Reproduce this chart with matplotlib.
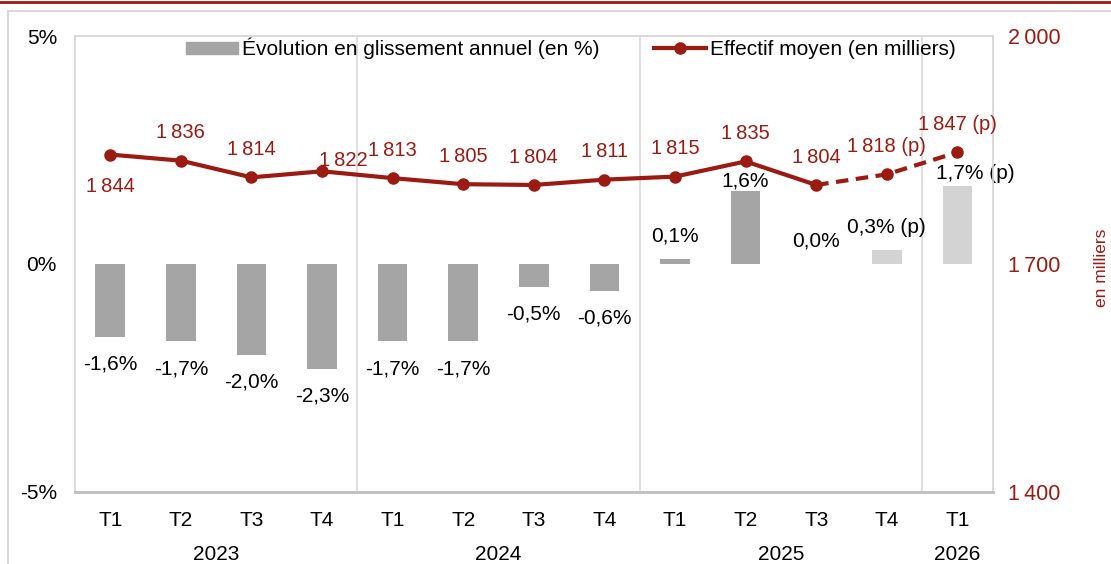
"""
Évolution de l'effectif moyen et glissement annuel
"""

import matplotlib
import matplotlib.pyplot as plt
from matplotlib.lines import Line2D
from matplotlib.patches import Patch, Rectangle

matplotlib.use("Agg")

# données
trimestres = ["T1", "T2", "T3", "T4", "T1", "T2", "T3", "T4", "T1", "T2", "T3", "T4", "T1"]
annees = ["2023", "2024", "2025", "2026"]
glissement = [-1.6, -1.7, -2.0, -2.3, -1.7, -1.7, -0.5, -0.6, 0.1, 1.6, 0.0, 0.3, 1.7]
effectif = [1844, 1836, 1814, 1822, 1813, 1805, 1804, 1811, 1815, 1835, 1804, 1818, 1847]
provisoire = [False] * 11 + [True, True]

ROUGE = "#9B1B12"
GRIS = "#A5A5A5"
GRIS_CLAIR = "#D3D3D3"
TAILLE = 15

plt.rcParams["font.family"] = ["Liberation Sans", "DejaVu Sans"]
plt.rcParams["font.size"] = TAILLE

fig = plt.figure(figsize=(11.11, 5.64), dpi=100)
ax = fig.add_axes([0.0675, 0.128, 0.826, 0.808])
ax2 = ax.twinx()

x = list(range(len(trimestres)))

# barres
couleurs = [GRIS_CLAIR if p else GRIS for p in provisoire]
ax.bar(x, glissement, width=0.42, color=couleurs, zorder=2)
ax.set_ylim(-5, 5)
ax.set_yticks([-5, 0, 5])
ax.set_yticklabels(["-5%", "0%", "5%"])
ax.set_xlim(-0.5, len(x) - 0.5)
ax.set_xticks(x)
ax.set_xticklabels(trimestres)
ax.tick_params(axis="y", length=0, pad=13)
ax.tick_params(axis="x", length=0, pad=14)

# étiquettes des barres (décalages en points)
decalage_barre = {9: (0, 7), 12: (13, 9.5)}
for i, v in enumerate(glissement):
    txt = f"{v:.1f}%".replace(".", ",")
    if provisoire[i]:
        txt += " (p)"
    if v < 0:
        dx, dy = 0, -19.5
    else:
        dx, dy = decalage_barre.get(i, (0, 16.5))
    ax.annotate(txt, (i, v), xytext=(dx, dy), textcoords="offset points",
                ha="center", va="center", color="black")

# courbe
sol = [i for i in x if i <= 10]
ax2.plot(sol, [effectif[i] for i in sol], color=ROUGE, lw=3, marker="o",
         ms=8, solid_capstyle="round", zorder=4)
tir = [i for i in x if i >= 10]
ax2.plot(tir, [effectif[i] for i in tir], color=ROUGE, lw=3, ls=(0, (3, 1.8)),
         marker="o", ms=8, markevery=[1, 2], zorder=4)
ax2.set_ylim(1400, 2000)
ax2.set_yticks([1400, 1700, 2000])
ax2.set_yticklabels(["1\u2009400", "1\u2009700", "2\u2009000"], color=ROUGE,
                    fontsize=15.5)
ax2.tick_params(length=0, pad=11)
fig.text(1101 / 1111, 0.525, "en milliers", rotation=90, color=ROUGE,
         ha="center", va="center", fontsize=12.5)

decalage_ligne = {0: (0, -23), 3: (15, 8)}
for i, v in enumerate(effectif):
    txt = f"{v // 1000}\u2009{v % 1000:03d}"
    if provisoire[i]:
        txt += " (p)"
    dx, dy = decalage_ligne.get(i, (0, 20))
    ax2.annotate(txt, (i, v), xytext=(dx, dy), textcoords="offset points",
                 ha="center", va="center", fontsize=14.5, color=ROUGE)

# séparateurs d'années
for s in [3.5, 7.5, 11.5]:
    ax.axvline(s, color="#D9D9D9", lw=1.2, zorder=1)

for a in (ax, ax2):
    for sp in a.spines.values():
        sp.set_color("#D9D9D9")
        sp.set_linewidth(1.2)
ax2.spines["bottom"].set_color("#BFBFBF")
ax2.spines["bottom"].set_linewidth(2)

# années
for centre, an in zip([1.5, 5.5, 9.5, 12], annees):
    ax.annotate(an, (centre, -5), xytext=(0, -45), textcoords="offset points",
                ha="center", va="center")

# légende
poignees = [Patch(color=GRIS),
            Line2D([0], [0], color=ROUGE, lw=3, marker="o", ms=8)]
ax.legend(poignees, ["Évolution en glissement annuel (en %)",
                     "Effectif moyen (en milliers)"],
          loc="upper center", bbox_to_anchor=(0.54, 1.038), ncol=2,
          frameon=False, handlelength=2.5, handleheight=0.5,
          columnspacing=2.6, handletextpad=0.2)

# cadre extérieur
fig.patches.append(Rectangle((8 / 1111, -0.1), 1.2, 1 - 11 / 564 + 0.1,
                             transform=fig.transFigure, fill=False,
                             edgecolor="#D9D9D9", lw=1.5))
fig.add_artist(Line2D([0, 1], [0.997, 0.997], transform=fig.transFigure,
                      color=ROUGE, lw=2))

plt.savefig("out.png", dpi=100)
plt.close()
